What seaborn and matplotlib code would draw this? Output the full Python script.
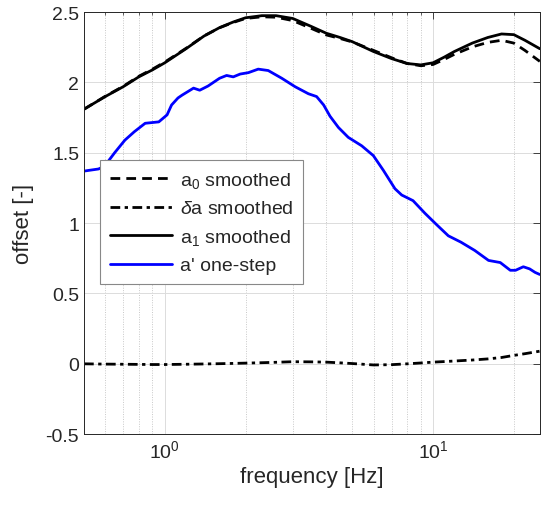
import matplotlib
matplotlib.use("Agg")
import matplotlib.pyplot as plt
import matplotlib.ticker as mticker
import seaborn as sns
import numpy as np

# ---- data ----
freq_smooth = [0.5, 0.6, 0.7, 0.8, 0.9, 1.0, 1.2, 1.4, 1.6, 1.8, 2.0, 2.3, 2.6, 3.0,
               3.5, 4.0, 4.5, 5.0, 6.0, 7.0, 8.0, 9.0, 10, 11, 12, 14, 16, 18, 20, 22, 25]
a1_smoothed = [1.81, 1.90, 1.97, 2.04, 2.09, 2.14, 2.24, 2.33, 2.39, 2.43, 2.46, 2.475, 2.475, 2.455,
               2.40, 2.35, 2.32, 2.29, 2.22, 2.17, 2.135, 2.125, 2.14, 2.18, 2.22, 2.28, 2.32, 2.345, 2.34, 2.30, 2.24]
a0_smoothed = [1.81, 1.902, 1.973, 2.044, 2.095, 2.145, 2.243, 2.331, 2.389, 2.427, 2.455, 2.467, 2.464, 2.44,
               2.386, 2.338, 2.313, 2.288, 2.228, 2.176, 2.135, 2.119, 2.128, 2.164, 2.20, 2.253, 2.285, 2.30, 2.28, 2.228, 2.15]
da_smoothed = [0.0, -0.002, -0.003, -0.004, -0.005, -0.005, -0.003, -0.001, 0.001, 0.003, 0.005, 0.008, 0.011, 0.015,
               0.014, 0.012, 0.007, 0.002, -0.008, -0.006, 0.0, 0.006, 0.012, 0.016, 0.02, 0.027, 0.035, 0.045, 0.06, 0.072, 0.09]

freq_onestep = [0.5, 0.52, 0.566, 0.59, 0.61, 0.65, 0.71, 0.77, 0.845, 0.95, 1.02, 1.06, 1.12, 1.16,
                1.28, 1.35, 1.45, 1.60, 1.70, 1.80, 1.91, 2.05, 2.23, 2.43, 2.73, 3.06, 3.43, 3.68,
                3.91, 4.13, 4.44, 4.83, 5.42, 5.99, 6.53, 7.21, 7.64, 8.42, 9.33, 10.3, 11.4, 12.7,
                14.3, 16.1, 17.8, 19.4, 20.3, 21.7, 22.9, 24.0, 25]
a_onestep = [1.37, 1.375, 1.385, 1.40, 1.43, 1.50, 1.59, 1.65, 1.71, 1.72, 1.77, 1.84, 1.89, 1.91,
             1.96, 1.945, 1.975, 2.03, 2.05, 2.04, 2.06, 2.07, 2.095, 2.085, 2.03, 1.97, 1.92, 1.90,
             1.84, 1.76, 1.68, 1.61, 1.55, 1.48, 1.375, 1.245, 1.20, 1.16, 1.07, 0.99, 0.91, 0.865,
             0.806, 0.735, 0.72, 0.665, 0.665, 0.69, 0.675, 0.65, 0.635]

labels = ["a$_0$ smoothed", r"$\mathit{\delta}$a smoothed", "a$_1$ smoothed", "a' one-step"]
yticks = [-0.5, 0, 0.5, 1, 1.5, 2, 2.5]
ytick_labels = ["-0.5", "0", "0.5", "1", "1.5", "2", "2.5"]

# ---- style ----
sns.set_theme(style="white")
plt.rcParams["font.family"] = ["Liberation Sans", "DejaVu Sans"]
plt.rcParams["mathtext.fontset"] = "custom"
plt.rcParams["mathtext.rm"] = "Liberation Sans"
plt.rcParams["mathtext.it"] = "Liberation Sans:italic"
plt.rcParams["mathtext.default"] = "regular"
txt = "#262626"

fig = plt.figure(figsize=(5.42, 5.06), dpi=100)
ax = fig.add_axes([0.155, 0.140, 0.841, 0.834])

lw = 2.0
sns.lineplot(x=freq_smooth, y=a0_smoothed, ax=ax, color="black", lw=lw,
             linestyle=(0, (3.5, 2.2)), label=labels[0], sort=False)
sns.lineplot(x=freq_smooth, y=da_smoothed, ax=ax, color="black", lw=lw,
             linestyle=(0, (3.5, 1.6, 1.2, 1.6)), label=labels[1], sort=False)
sns.lineplot(x=freq_smooth, y=a1_smoothed, ax=ax, color="black", lw=lw,
             linestyle="-", label=labels[2], sort=False)
sns.lineplot(x=freq_onestep, y=a_onestep, ax=ax, color=(0, 0, 1), lw=lw,
             linestyle="-", label=labels[3], sort=False)

ax.set_xscale("log")
ax.set_xlim(0.5, 25)
ax.set_ylim(-0.5, 2.5)
ax.set_yticks(yticks)
ax.set_yticklabels(ytick_labels)
ax.xaxis.set_major_locator(mticker.LogLocator(base=10))
ax.xaxis.set_minor_locator(mticker.LogLocator(base=10, subs=np.arange(2, 10)))
ax.xaxis.set_minor_formatter(mticker.NullFormatter())

ax.grid(True, which="major", axis="both", color="#dcdcdc", lw=0.7, ls="-")
ax.grid(True, which="minor", axis="x", color="#c8c8c8", lw=0.7, ls=(0, (1, 1.5)))
ax.set_axisbelow(True)

ax.tick_params(axis="both", which="both", direction="in", top=True, right=True,
               colors=txt, labelsize=14, labelcolor=txt)
ax.tick_params(which="major", length=5, width=0.6)
ax.tick_params(which="minor", length=2.5, width=0.5)
for s in ax.spines.values():
    s.set_color(txt)
    s.set_linewidth(0.7)

ax.set_xlabel("frequency [Hz]", fontsize=16, color=txt, labelpad=4)
ax.set_ylabel("offset [-]", fontsize=16, color=txt, labelpad=8)

leg = ax.legend(loc="upper left", bbox_to_anchor=(0.035, 0.649), fontsize=14,
                frameon=True, fancybox=False, shadow=False, framealpha=1,
                edgecolor="#888888", handlelength=3.2, handletextpad=0.4,
                labelspacing=0.5, borderpad=0.5, borderaxespad=0)
leg.get_frame().set_linewidth(0.8)
for t in leg.get_texts():
    t.set_color(txt)

fig.savefig("out.png", dpi=100)
